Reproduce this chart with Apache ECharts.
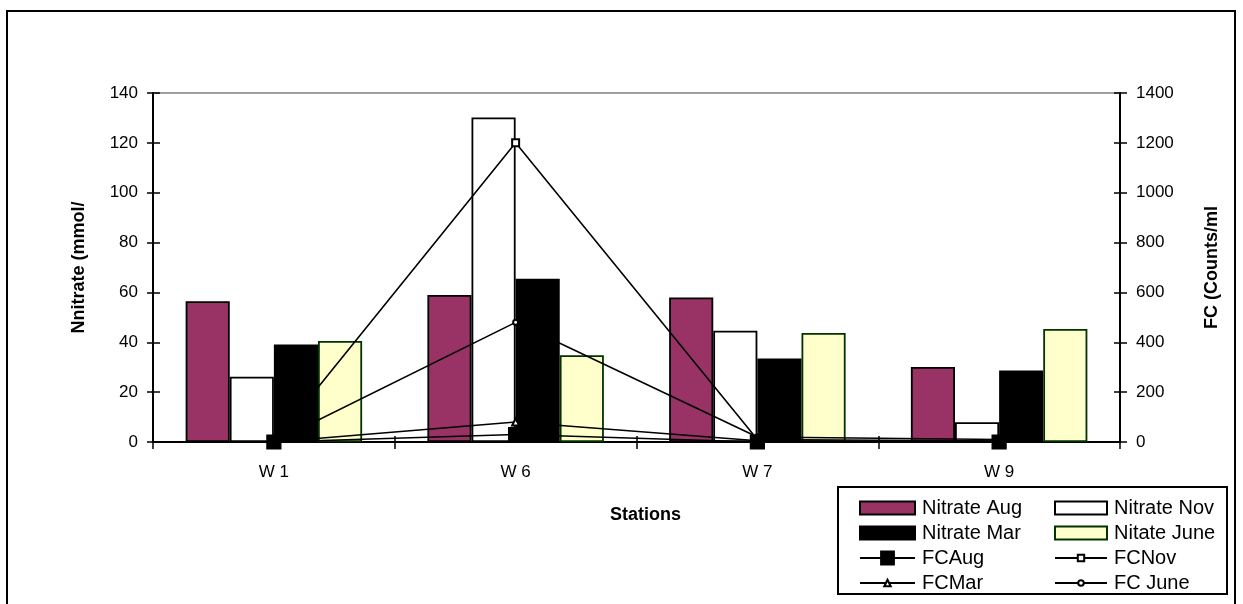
<!DOCTYPE html>
<html>
<head>
<meta charset="utf-8">
<script src="https://cdn.jsdelivr.net/npm/echarts@6/dist/echarts.min.js"></script>
<style>
  html, body { margin: 0; padding: 0; background: #ffffff; }
  #chart { width: 1243px; height: 604px; }
</style>
</head>
<body>
<div id="chart"></div>
<script>
// Stations along the x axis
const stations = ['W 1', 'W 6', 'W 7', 'W 9'];

// Nitrate concentrations (left axis)
const nitrateAug  = [56.5, 59.0, 58.0, 30.1];
const nitrateNov  = [26.2, 130.2, 44.6, 7.9];
const nitrateMar  = [39.1, 65.5, 33.5, 28.7];
const nitrateJune = [40.5, 34.8, 43.7, 45.3];

// Faecal coliform counts (right axis)
const fcAug  = [0, 30, 0, 0];
const fcNov  = [0, 1200, 10, 4];
const fcMar  = [0, 80, 5, 2];
const fcJune = [0, 480, 20, 10];

// Axis ranges
const leftTicks  = { min: 0, max: 140, interval: 20 };
const rightTicks = { min: 0, max: 1400, interval: 200 };

const FONT = 'Liberation Sans, Arial, sans-serif';
const chart = echarts.init(document.getElementById('chart'));

const barSeries = (name, data, fill, border) => ({
  name, type: 'bar', data,
  xAxisIndex: 0, yAxisIndex: 0,
  barGap: '0%', barCategoryGap: '27%',
  itemStyle: { color: fill, borderColor: border, borderWidth: 1.8 },
  emphasis: { disabled: true }, z: 2
});

const lineSeries = (name, data, symbol, size, z) => ({
  name, type: 'line', data,
  xAxisIndex: 0, yAxisIndex: 1,
  symbol, symbolSize: size,
  lineStyle: { color: '#000', width: 1.6 },
  itemStyle: { color: '#000', borderColor: '#000', borderWidth: 1.2 },
  emphasis: { disabled: true }, z
});

const legendItem = (name, left, top, w, h, icon) => ({
  data: [icon ? { name, icon } : name], left, top,
  itemWidth: w, itemHeight: h,
  selectedMode: false,
  textStyle: { fontFamily: FONT, fontSize: 20, color: '#000', lineHeight: 20, padding: [0, 0, 0, 2] }
});

const c1 = 854, c2 = 1049;
const rows = [493, 518, 543, 568];

chart.setOption({
  animation: false,
  backgroundColor: '#fff',
  grid: {
    left: 153, right: 123, top: 93, bottom: 162,
    show: true, borderColor: '#808080', borderWidth: 1.5, backgroundColor: 'transparent'
  },
  xAxis: [{
    type: 'category', data: stations, position: 'bottom', boundaryGap: true,
    axisLine: { lineStyle: { color: '#000', width: 2 } },
    axisTick: { show: true, inside: false, length: 7, alignWithLabel: false, lineStyle: { color: '#000', width: 1.5 } },
    axisLabel: { fontFamily: FONT, fontSize: 17, color: '#000', margin: 22 },
    name: 'Stations', nameLocation: 'middle', nameGap: 64,
    nameTextStyle: { fontFamily: FONT, fontSize: 18, fontWeight: 'bold', color: '#000', padding: [0, 0, 0, 18] }
  }, {
    type: 'category', data: stations, position: 'bottom', boundaryGap: true,
    axisLine: { show: false },
    axisTick: { show: true, inside: true, length: 6, alignWithLabel: false, lineStyle: { color: '#000', width: 1.5 } },
    axisLabel: { show: false }
  }],
  yAxis: [{
    type: 'value', position: 'left', ...leftTicks,
    axisLine: { show: true, lineStyle: { color: '#000', width: 2 } },
    axisTick: { show: true, inside: false, length: 6, lineStyle: { color: '#000', width: 1.5 } },
    axisLabel: { fontFamily: FONT, fontSize: 17, color: '#000', margin: 15 },
    splitLine: { show: false },
    name: 'Nnitrate (mmol/', nameLocation: 'middle', nameGap: 65, nameRotate: 90,
    nameTextStyle: { fontFamily: FONT, fontSize: 18, fontWeight: 'bold', color: '#000' }
  }, {
    type: 'value', position: 'right', ...rightTicks,
    axisLine: { show: true, lineStyle: { color: '#000', width: 2 } },
    axisTick: { show: true, inside: false, length: 7, lineStyle: { color: '#000', width: 1.5 } },
    axisLabel: { fontFamily: FONT, fontSize: 17, color: '#000', margin: 16, formatter: v => String(v) },
    splitLine: { show: false },
    name: 'FC (Counts/ml', nameLocation: 'middle', nameGap: 83, nameRotate: 90,
    nameTextStyle: { fontFamily: FONT, fontSize: 18, fontWeight: 'bold', color: '#000' }
  }, {
    type: 'value', position: 'left', ...leftTicks,
    axisLine: { show: false },
    axisTick: { show: true, inside: true, length: 7, lineStyle: { color: '#000', width: 1.5 } },
    axisLabel: { show: false }, splitLine: { show: false }
  }, {
    type: 'value', position: 'right', ...rightTicks,
    axisLine: { show: false },
    axisTick: { show: true, inside: true, length: 6, lineStyle: { color: '#000', width: 1.5 } },
    axisLabel: { show: false }, splitLine: { show: false }
  }],
  legend: [
    legendItem('Nitrate Aug', c1, rows[0], 55, 13, 'rect'),
    legendItem('Nitrate Mar', c1, rows[1], 55, 13, 'rect'),
    legendItem('FCAug', c1, rows[2], 55, 16),
    legendItem('FCMar', c1, rows[3], 55, 8),
    legendItem('Nitrate Nov', c2, rows[0], 52, 13, 'rect'),
    legendItem('Nitate June', c2, rows[1], 52, 13, 'rect'),
    legendItem('FCNov', c2, rows[2], 52, 8),
    legendItem('FC June', c2, rows[3], 52, 7)
  ],
  graphic: [
    { type: 'rect', shape: { x: 7, y: 11, width: 1228, height: 610 },
      style: { fill: 'none', stroke: '#000', lineWidth: 2 }, z: 0, silent: true },
    { type: 'rect', shape: { x: 838, y: 487, width: 389, height: 107 },
      style: { fill: '#fff', stroke: '#000', lineWidth: 2 }, z: 0, silent: true }
  ],
  series: [
    barSeries('Nitrate Aug', nitrateAug, '#993366', '#000'),
    barSeries('Nitrate Nov', nitrateNov, '#ffffff', '#000'),
    barSeries('Nitrate Mar', nitrateMar, '#000000', '#000'),
    barSeries('Nitate June', nitrateJune, '#ffffcc', '#003300'),
    lineSeries('FCAug', fcAug, 'rect', 14, 6),
    lineSeries('FCNov', fcNov, 'emptyRect', 7, 5),
    lineSeries('FCMar', fcMar, 'emptyTriangle', 7, 5),
    lineSeries('FC June', fcJune, 'emptyCircle', 5, 5)
  ]
});
</script>
</body>
</html>
